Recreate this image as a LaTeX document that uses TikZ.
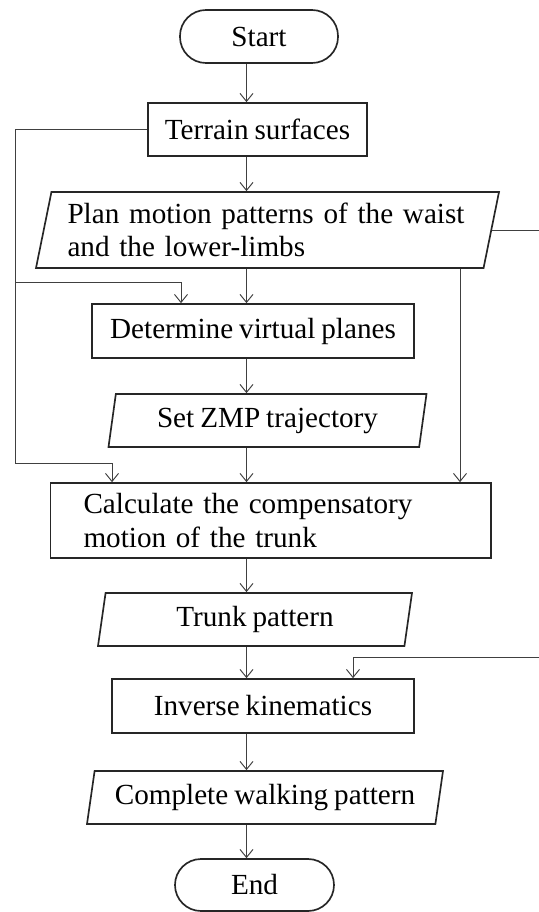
\documentclass[tikz,border=0pt]{standalone}
\usepackage{fontspec}
\setmainfont{Liberation Serif}[WordSpace=0.82]
\usetikzlibrary{arrows.meta,positioning,shapes.geometric,calc}

\begin{document}
\begin{tikzpicture}[
  font=\fontsize{16.6}{18.8}\selectfont,
  term/.style={rectangle,rounded corners=0.52cm,draw=black!85,line width=0.95pt,minimum height=1.06cm,inner sep=0pt},
  proc/.style={rectangle,draw=black!85,line width=0.95pt,minimum height=1.06cm,inner sep=0pt},
  io/.style={trapezium,trapezium left angle=74,trapezium right angle=106,trapezium stretches body,draw=black!85,line width=0.95pt,minimum height=1.06cm,inner sep=0pt},
  arr/.style={-{Straight Barb[length=1.6mm,width=2.6mm]},black!75,line width=0.55pt}
]
\clip (0,0) rectangle (10.78,-18.24);
\coordinate (axis) at (4.93,0);

\node[term,minimum width=3.16cm] (start) at (5.18,-0.73) {Start};
\node[proc,minimum width=4.38cm] (terrain) at (5.15,-2.59) {Terrain surfaces};
\node[io,minimum width=9.26cm,minimum height=1.52cm,text width=8.0cm,align=left] (plan) at (5.35,-4.60) {Plan motion patterns of the waist\\and the lower-limbs};
\node[proc,minimum width=6.44cm,minimum height=1.08cm] (determine) at (5.06,-6.62) {Determine virtual planes};
\node[io,minimum width=6.36cm] (zmp) at (5.35,-8.41) {Set ZMP trajectory};
\node[proc,minimum height=1.50cm,text width=7.49cm,inner xsep=0.66cm,align=left] (calc) at (5.415,-10.41) {Calculate the compensatory\\motion of the trunk};
\node[io,minimum width=6.28cm] (trunk) at (5.10,-12.39) {Trunk pattern};
\node[proc,minimum width=6.04cm,minimum height=1.08cm] (ik) at (5.26,-14.12) {Inverse kinematics};
\node[io,minimum width=7.12cm] (complete) at (5.30,-15.95) {Complete walking pattern};
\node[term,minimum width=3.18cm,minimum height=1.04cm] (end) at (5.09,-17.70) {End};

\draw[arr] (start.south -| axis) -- (terrain.north -| axis);
\draw[arr] (terrain.south -| axis) -- (plan.north -| axis);
\draw[arr] (plan.south -| axis) -- (determine.north -| axis);
\draw[arr] (determine.south -| axis) -- (zmp.north -| axis);
\draw[arr] (zmp.south -| axis) -- (calc.north -| axis);
\draw[arr] (calc.south -| axis) -- (trunk.north -| axis);
\draw[arr] (trunk.south -| axis) -- (ik.north -| axis);
\draw[arr] (ik.south -| axis) -- (complete.north -| axis);
\draw[arr] (complete.south -| axis) -- (end.north -| axis);

\coordinate (lft) at (0.30,-5.64);
\coordinate (lft2) at (0.30,-9.26);
\draw[arr] (terrain.west) -| (lft2) -| ([xshift=-3.175cm]calc.north);
\draw[arr] (lft) -| ([xshift=-1.44cm]determine.north);

\coordinate (rgt) at (9.20,0);
\draw[arr] (plan.south -| rgt) -- (calc.north -| rgt);

\coordinate (far) at (11.5,-13.14);
\draw[arr] (plan.east) -| (far) -| ([xshift=1.80cm]ik.north);
\end{tikzpicture}
\end{document}
